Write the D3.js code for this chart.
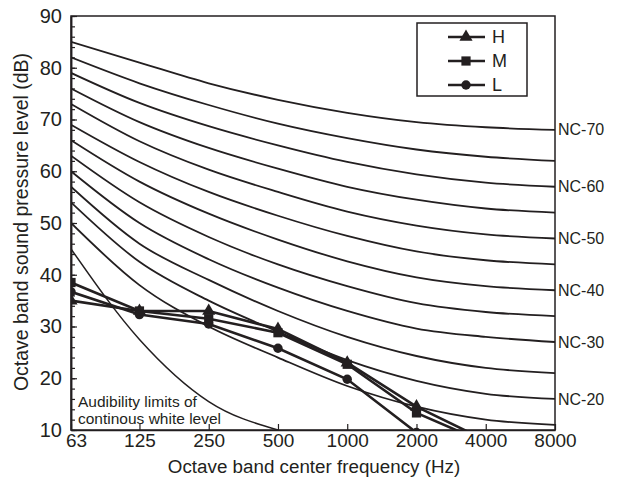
<!DOCTYPE html>
<html>
<head>
<meta charset="utf-8">
<script src="https://cdn.jsdelivr.net/npm/d3@7"></script>
<style>
body { margin: 0; background: #fff; }
text { font-family: "Liberation Sans", Arial, sans-serif; fill: #231f20; }
</style>
</head>
<body>
<div id="chart"></div>
<script>
// octave band centres (Hz)
const freqs = [63, 125, 250, 500, 1000, 2000, 4000, 8000];
const yTicks = [10, 20, 30, 40, 50, 60, 70, 80, 90];

// NC curves at each octave band
const nc70 = [85, 81, 77, 73.8, 71.3, 69.5, 68.5, 68];
const nc65 = [82, 77, 72.8, 69.2, 66.4, 64.2, 62.8, 62];
const nc60 = [79, 73.2, 68.7, 65, 61.8, 59.4, 57.8, 57];
const nc55 = [76, 69.5, 64.5, 60.5, 57, 54.5, 52.8, 52];
const nc50 = [73, 65.8, 60.3, 56, 52.2, 49.5, 47.8, 47];
const nc45 = [69, 61.8, 56, 51.4, 47.5, 44.5, 42.8, 42];
const nc40 = [66, 58, 51.8, 46.8, 42.6, 39.5, 37.8, 37];
const nc35 = [63, 54, 47.3, 42, 37.8, 34.5, 32.8, 32];
const nc30 = [60, 50, 43, 37.5, 33, 29.6, 28, 27];
const nc25 = [57, 46, 39, 33, 28, 24.3, 22, 21];
const nc20 = [54, 42.5, 35, 29, 23.5, 19.5, 17, 16];
const nc15 = [50, 38, 30, 24, 18.5, 14.5, 12, 11];
const ncLabels = ["NC-70", "NC-60", "NC-50", "NC-40", "NC-30", "NC-20"];

// audibility limit of continuous white noise (63..500 Hz)
const audibility = [45, 27.5, 15.5, 10];

// measured spectra H / M / L
const seriesH = [35, 33, 33, 29.5, 23, 14.5, 8];
const seriesM = [38.5, 33, 31.5, 28.8, 22.7, 13.3, 7.5];
const seriesL = [36.7, 32.3, 30.5, 25.8, 19.8, 9.5];

const W = 629, H = 483;
const margin = { top: 16, right: 74, bottom: 53, left: 71 };
const width = W - margin.left - margin.right;
const height = H - margin.top - margin.bottom;
const ink = "#231f20";

const svg = d3.select("#chart").append("svg")
    .attr("width", W)
    .attr("height", H);
const g = svg.append("g")
    .attr("transform", `translate(${margin.left},${margin.top})`);

const x = d3.scaleLog().base(2).domain([63, 8000]).range([0, width]);
const y = d3.scaleLinear().domain([10, 90]).range([height, 0]);

g.append("clipPath").attr("id", "plot-clip")
  .append("rect").attr("width", width).attr("height", height);

const toPoints = vals => vals.map((v, i) => [freqs[i], v]);
const line = d3.line()
    .x(d => x(d[0]))
    .y(d => y(d[1]));
const smooth = d3.line()
    .x(d => x(d[0]))
    .y(d => y(d[1]))
    .curve(d3.curveMonotoneX);

//NC curves
const ncCurves = [nc70, nc65, nc60, nc55, nc50, nc45, nc40, nc35, nc30, nc25, nc20, nc15];
g.append("g")
    .attr("clip-path", "url(#plot-clip)")
  .selectAll("path")
  .data(ncCurves)
  .join("path")
    .attr("fill", "none")
    .attr("stroke", ink)
    .attr("stroke-width", 1.8)
    .attr("d", d => smooth(toPoints(d)));

//audibility curve
g.append("path")
    .datum(toPoints(audibility))
    .attr("clip-path", "url(#plot-clip)")
    .attr("fill", "none")
    .attr("stroke", ink)
    .attr("stroke-width", 1.5)
    .attr("d", smooth);

g.append("text")
    .attr("x", 7)
    .attr("y", 391)
    .style("font-size", "15.5px")
    .text("Audibility limits of");
g.append("text")
    .attr("x", 7)
    .attr("y", 408)
    .style("font-size", "15.5px")
    .text("continous white level");

//NC labels at right end
[nc70, nc60, nc50, nc40, nc30, nc20].forEach((c, i) => {
    g.append("text")
        .attr("x", width + 3)
        .attr("y", y(c[c.length - 1]))
        .attr("dy", "0.35em")
        .style("font-size", "16px")
        .text(ncLabels[i]);
});

//series
const series = [
    { name: "H", vals: seriesH, symbol: d3.symbolTriangle, size: 75 },
    { name: "M", vals: seriesM, symbol: d3.symbolSquare, size: 85 },
    { name: "L", vals: seriesL, symbol: d3.symbolCircle, size: 70 }
];

series.forEach(s => {
    const pts = toPoints(s.vals);
    const sg = g.append("g").attr("clip-path", "url(#plot-clip)");
    sg.append("path")
        .datum(pts)
        .attr("fill", "none")
        .attr("stroke", ink)
        .attr("stroke-width", 2.6)
        .attr("d", line);
    sg.selectAll("path.mark")
      .data(pts)
      .join("path")
        .attr("class", "mark")
        .attr("transform", d => `translate(${x(d[0])},${y(d[1])})`)
        .attr("fill", ink)
        .attr("d", d3.symbol().type(s.symbol).size(s.size));
});

//axes
const yAxis = g.append("g")
    .call(d3.axisLeft(y).tickValues(yTicks).tickSize(-6).tickSizeOuter(0).tickPadding(9));
yAxis.selectAll("text").style("font-size", "20px");

g.append("g")
    .call(d3.axisLeft(y).tickValues(d3.range(10, 91, 2)).tickSize(-4).tickSizeOuter(0).tickFormat(""));

const xAxis = g.append("g")
    .attr("transform", `translate(0,${height})`)
    .call(d3.axisBottom(x).tickValues(freqs).tickSize(-6).tickSizeOuter(0).tickPadding(4)
        .tickFormat(d => d));
xAxis.selectAll("text").style("font-size", "19px");
// the first label sits right of the corner, clear of the "10"
xAxis.selectAll(".tick text").filter(d => d === 63).attr("dx", 5);

g.selectAll(".domain").attr("stroke", ink).attr("stroke-width", 1.5);
g.selectAll(".tick line").attr("stroke", ink).attr("stroke-width", 1.2);

//frame
g.append("rect")
    .attr("width", width)
    .attr("height", height)
    .attr("fill", "none")
    .attr("stroke", ink)
    .attr("stroke-width", 1.5);

//axis titles
g.append("text")
    .attr("x", width / 2 + 1)
    .attr("y", height + 43)
    .attr("text-anchor", "middle")
    .style("font-size", "18.8px")
    .text("Octave band center frequency (Hz)");

g.append("text")
    .attr("transform", "rotate(-90)")
    .attr("x", -height / 2 + 1)
    .attr("y", -margin.left + 21)
    .attr("dy", "0.35em")
    .attr("text-anchor", "middle")
    .style("font-size", "19.5px")
    .text("Octave band sound pressure level (dB)");

//legend
const legend = g.append("g").attr("transform", `translate(${346},${7})`);
legend.append("rect")
    .attr("width", 110)
    .attr("height", 73)
    .attr("fill", "#fff")
    .attr("stroke", ink)
    .attr("stroke-width", 1.5);
series.forEach((s, i) => {
    const ly = 14 + i * 24;
    legend.append("line")
        .attr("x1", 31).attr("x2", 68)
        .attr("y1", ly).attr("y2", ly)
        .attr("stroke", ink)
        .attr("stroke-width", 2.6);
    legend.append("path")
        .attr("transform", `translate(49,${ly})`)
        .attr("fill", ink)
        .attr("d", d3.symbol().type(s.symbol).size(s.size));
    legend.append("text")
        .attr("x", 75)
        .attr("y", ly)
        .attr("dy", "0.36em")
        .style("font-size", "18px")
        .text(s.name);
});
</script>
</body>
</html>
